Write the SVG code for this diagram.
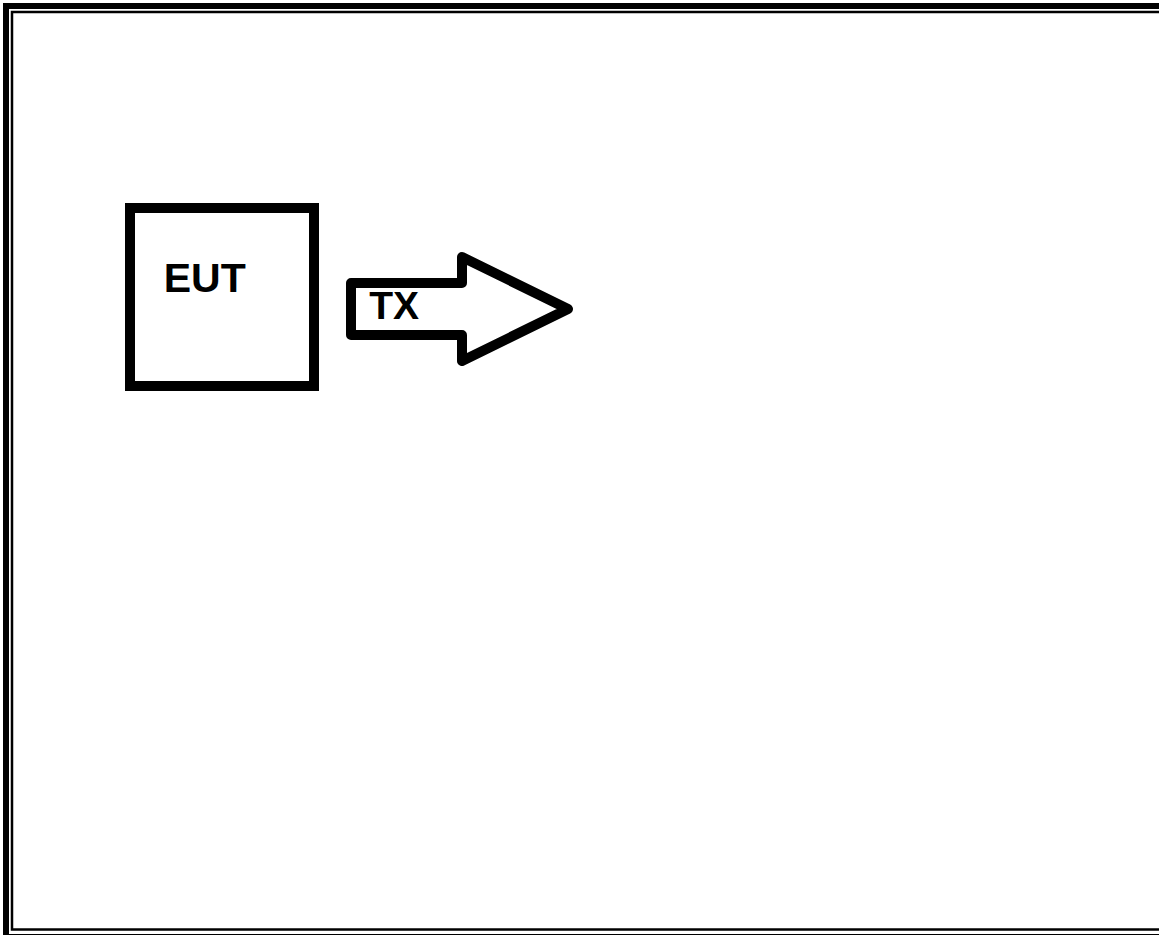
<svg xmlns="http://www.w3.org/2000/svg" width="1159" height="935" viewBox="0 0 1159 935">
<style>
.frame{fill:none;stroke:#000}
.shape{fill:#fff;stroke:#000;stroke-width:10}
.lbl{font-family:"Liberation Sans",Arial,sans-serif;font-weight:bold;fill:#000}
</style>
<rect width="1159" height="935" fill="#fff"/>
<g id="border">
<rect class="frame" x="6" y="6" width="1170" height="931" stroke-width="6"/>
<rect class="frame" x="12" y="12" width="1160" height="917.5" stroke-width="2.5"/>
</g>
<g id="eut">
<rect class="shape" x="130" y="208" width="184" height="178" stroke-linejoin="miter"/>
<text class="lbl" x="163.7" y="291.7" font-size="41">EUT</text>
</g>
<g id="connectors">
<g id="tx">
<path class="shape" d="M351,283 L462,283 L462,257 L568,309 L462,361 L462,335 L351,335 Z" stroke-linejoin="round"/>
<text class="lbl" x="369.2" y="319.3" font-size="39">TX</text>
</g>
</g>
</svg>
